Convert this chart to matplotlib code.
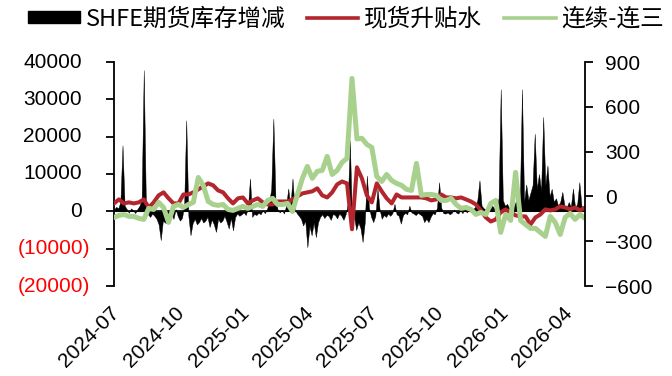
import numpy as np
import matplotlib
matplotlib.use("Agg")
import matplotlib.pyplot as plt
from matplotlib.lines import Line2D
from matplotlib.patches import Patch
from matplotlib.transforms import offset_copy

plt.rcParams['font.family'] = ['Liberation Sans', 'Noto Sans CJK SC', 'DejaVu Sans']

# ---- data -------------------------------------------------------------
# weekly observations for the two spread series (yuan/ton, right axis)
line_dates = np.arange('2024-06-24', '2026-04-21', 7, dtype='datetime64[D]')

spot_premium = [  # 现货升贴水
    -47, -20, -47, -40, -47, -40, -20, -74, -40, 7,
    27, -13, -47, -47, 13, 13, 27, 47, 67, 87,
    74, 40, 27, -13, -47, -13, -7, -47, -27, -13,
    -40, -54, -54, -34, -34, -34, -20, 0, 20, 27,
    34, 54, 7, -7, 27, 80, 100, 87, -220, 195,
    121, 7, -40, 87, 34, -13, -47, 13, -7, -7,
    -7, -7, -7, -13, -27, -20, 13, -7, -7, -13,
    -7, -20, -34, -54, -94, -141, -168, -154, -107, -87,
    -107, -127, -134, -134, -188, -141, -121, -87, -94, -87,
    -67, -74, -87, -74, -94, -74,
]

c1_c3_spread = [  # 连续-连三
    -141, -127, -121, -134, -134, -147, -154, -80, -87, -40,
    -74, -174, -67, -54, -74, -54, -40, 127, 74, -34,
    -54, -60, -54, -87, -94, -80, -67, -80, -67, -54,
    -67, -27, -13, -54, -54, -47, -101, 13, 121, 201,
    121, 168, 174, 268, 147, 174, 228, 255, 790, 385,
    389, 348, 328, 134, 100, 147, 107, 87, 74, 47,
    40, 221, 7, 13, 13, 7, -27, -27, -13, -54,
    -80, -74, -87, -121, -107, -121, -47, -27, -241, -121,
    -161, 161, -161, -188, -214, -214, -241, -268, -134, -174,
    -255, -141, -114, -154, -121, -147,
]

# SHFE warehouse stock change (tons, left axis), sampled every 3 days
inv_dates = np.arange('2024-06-24', '2026-04-21', 3, dtype='datetime64[D]')
inv_change = [
    500, 1200, 800, 2500, 17700, 1500, 600, -400, 800, 300,
    -500, 600, 1500, 3000, 37800, 2000, -800, -1500, -600, -1200,
    -2000, -3500, -7700, -2500, -3000, -3200, -1500, -800, -2000, 600,
    -1300, -2500, -1800, 1500, 24400, -1200, -6400, -3200, -2000, -3500,
    -2900, -1800, -3000, -2500, -1500, -4200, -2200, -3500, -5500, -2000,
    -3000, -2500, -1200, -2800, -4600, -1800, -5100, -1500, -600, -1200,
    -800, -300, -1000, 800, 8800, -1500, -700, -1000, -400, -800,
    300, -500, 600, 2500, 6000, 24800, 3000, 500, -300, 400,
    -600, 1500, 6100, 1200, 8800, 800, -500, -1200, -2000, -3800,
    -2500, -9600, -4000, -6400, -3000, -6900, -3000, -1500, -800, -1800,
    -1000, -1200, -2300, -700, -1000, -1900, -600, -1200, -2300, -800,
    2000, 19000, -2900, -1500, -5000, -3000, -4500, -8200, -3000, 9600,
    1000, -1500, -2900, -1200, 6100, 500, -2000, -1000, -1500, -600,
    -1200, -500, 2000, -800, -1200, -3300, -1000, -400, -800, 1500,
    -300, -600, -1000, -400, -800, -1200, -2900, -2000, -2900, -1500,
    -500, -800, 1000, 7800, 1000, -500, -600, -300, -800, -400,
    500, -300, -600, 300, -500, 800, -300, 400, -200, 600,
    1200, 3000, 8300, 1500, 800, 500, 1200, 600, 1500, 800,
    1500, 3500, 32700, 3000, 1500, 2000, 800, 1800, 1000, 2500,
    8000, 2500, 32700, 2500, 7200, 3000, 5000, 7000, 20800, 6000,
    10000, 5500, 25300, 7000, 12300, 4000, 6000, 2500, 3500, 1500,
    2500, 5200, 1500, 1000, 2500, 1200, 6100, 1000, 2000, 7800,
    1500, 800,
]

x_tick_dates = np.array(['2024-07-01', '2024-10-01', '2025-01-01', '2025-04-01',
                         '2025-07-01', '2025-10-01', '2026-01-01', '2026-04-01'],
                        dtype='datetime64[D]')
x_tick_labels = ['2024-07', '2024-10', '2025-01', '2025-04',
                 '2025-07', '2025-10', '2026-01', '2026-04']
left_ticks = [-20000, -10000, 0, 10000, 20000, 30000, 40000]
right_ticks = [-600, -300, 0, 300, 600, 900]

series_names = ['SHFE期货库存增减', '现货升贴水', '连续-连三']

# ---- styling ----------------------------------------------------------
RED = '#B3262D'
GREEN = '#A9D18E'
TICK_FS = 15
DPI = 100

fig = plt.figure(figsize=(6.72, 3.76), dpi=DPI)
W, H = 672, 376
ax = fig.add_axes([114 / W, (H - 286) / H, (585 - 114) / W, (286 - 62) / H])
ax2 = ax.twinx()

# stock change as a filled area on the left axis
ax.fill_between(inv_dates, inv_change, 0, color='black', linewidth=0.3,
                edgecolor='black')
ax.axhline(0, color='black', linewidth=1.2, zorder=3)

# spreads on the right axis
ax2.plot(line_dates, spot_premium, color=RED, linewidth=2.9,
         solid_joinstyle='round')
ax2.plot(line_dates, c1_c3_spread, color=GREEN, linewidth=3.6,
         solid_joinstyle='round')

ax.set_xlim(line_dates[0], line_dates[-1])
ax.set_ylim(-20000, 40000)
ax2.set_ylim(-600, 900)


def px2pt(px):
    return px * 72.0 / DPI


# left axis: tick marks on the axis, accounting-style labels drawn as text
ax.set_yticks(left_ticks)
ax.tick_params(axis='y', direction='out', length=5.5, width=1.3,
               labelleft=False)
ytrans = ax.get_yaxis_transform()
for v in left_ticks:
    if v < 0:
        txt, col, off = f'({-v})', '#FF0000', 24
    else:
        txt, col, off = f'{v}', 'black', 32
    ax.text(0, v, txt, color=col, fontsize=TICK_FS, ha='right', va='center',
            transform=offset_copy(ytrans, fig=fig, x=-px2pt(off), y=0,
                                  units='points'))

ax2.set_yticks(right_ticks)
ax2.set_yticklabels([f'\u2212{-v}' if v < 0 else f'{v}' for v in right_ticks])
ax2.tick_params(axis='y', direction='out', length=5.5, width=1.3,
                labelsize=TICK_FS, pad=9)

# date labels along the bottom edge, rotated
ax.set_xticks(x_tick_dates)
ax.tick_params(axis='x', length=0, labelbottom=False)
xtrans = ax.get_xaxis_transform()
for d, lab in zip(x_tick_dates, x_tick_labels):
    ax.text(d, 0, lab, fontsize=TICK_FS, rotation=45, ha='right', va='top',
            transform=offset_copy(xtrans, fig=fig, x=px2pt(4), y=-px2pt(17),
                                  units='points'))

for a in (ax, ax2):
    a.spines['top'].set_visible(False)
    a.spines['bottom'].set_visible(False)
    a.patch.set_visible(False)
ax.spines['right'].set_visible(False)
ax2.spines['left'].set_visible(False)
ax.spines['left'].set_linewidth(1.3)
ax2.spines['right'].set_linewidth(1.3)

handles = [
    Patch(facecolor='black', edgecolor='black'),
    Line2D([], [], color=RED, linewidth=2.6),
    Line2D([], [], color=GREEN, linewidth=2.6),
]
fig.legend(handles, series_names, loc='center', ncol=3,
           bbox_to_anchor=(346 / W, 1 - 19 / H), frameon=False,
           prop={'family': ['Noto Sans CJK SC', 'DejaVu Sans'], 'size': 17},
           handlelength=2.2, handleheight=0.45, handletextpad=0.25,
           columnspacing=0.9, borderpad=0, borderaxespad=0)

fig.savefig('out.png', dpi=DPI)
